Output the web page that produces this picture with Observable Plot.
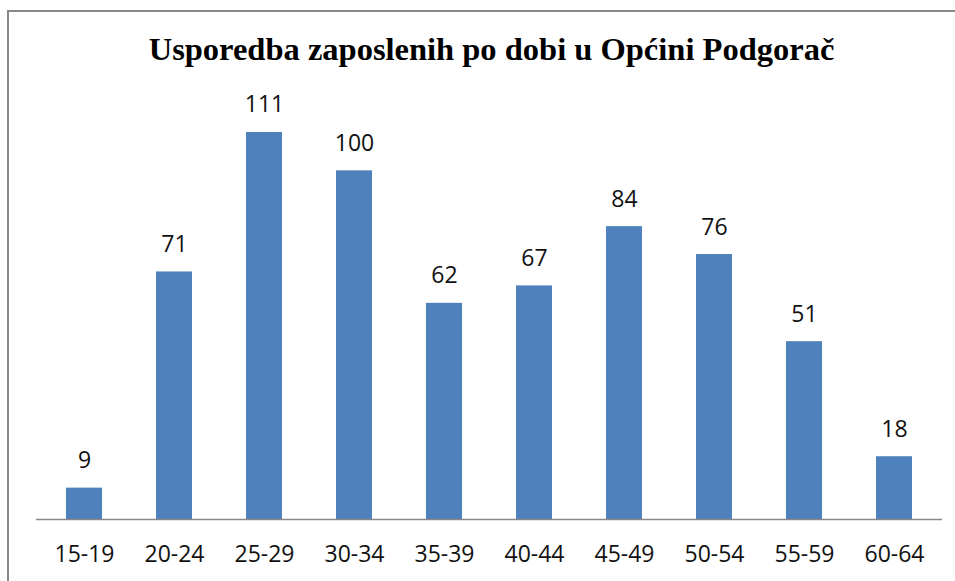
<!DOCTYPE html>
<html>
<head>
<meta charset="utf-8">
<script src="https://cdn.jsdelivr.net/npm/d3@7"></script>
<script src="https://cdn.jsdelivr.net/npm/@observablehq/plot@0.6"></script>
<style>
  html, body { margin: 0; padding: 0; background: #fff; overflow: hidden; width: 955px; height: 581px; }
  #frame { position: absolute; left: 7px; top: 10px; width: 1000px; height: 1000px; border-left: 2px solid #888; border-top: 2px solid #888; }
  #title { position: absolute; top: 33px; left: 0; width: 983px; text-align: center; font: bold 32.5px/32px "Liberation Serif", "Times New Roman", serif; color: #000; white-space: nowrap; }
  #chart { position: absolute; top: 75px; left: 0; }
</style>
</head>
<body>
<div id="frame"></div>
<div id="title">Usporedba zaposlenih po dobi u Općini Podgorač</div>
<div id="chart"></div>
<script>
const ageGroups = ["15-19", "20-24", "25-29", "30-34", "35-39", "40-44", "45-49", "50-54", "55-59", "60-64"];
const employed = [9, 71, 111, 100, 62, 67, 84, 76, 51, 18];

const data = ageGroups.map((g, i) => ({group: g, value: employed[i]}));

const chart = Plot.plot({
  width: 955,
  height: 506,
  marginLeft: 38,
  marginRight: 15,
  marginTop: 25.6,
  marginBottom: 62,
  style: {fontFamily: "'Open Sans', sans-serif", fontSize: "23px", color: "#000", background: "transparent", overflow: "visible"},
  x: {domain: ageGroups, paddingInner: 0.6, paddingOuter: 0.3, label: null},
  y: {domain: [0, 120], axis: null},
  marks: [
    Plot.barY(data, {x: "group", y: "value", fill: "#4F81BD"}),
    Plot.ruleY([0], {stroke: "#888", strokeWidth: 1.5, insetLeft: -2, insetRight: -2}),
    Plot.text(data, {x: "group", y: "value", text: d => String(d.value), lineAnchor: "bottom", dy: -20, fill: "#111", fontSize: 23}),
    Plot.axisX({tickSize: 0, tickPadding: 26, fontSize: 23, fill: "#111", label: null})
  ]
});
document.getElementById("chart").appendChild(chart);
</script>
</body>
</html>
